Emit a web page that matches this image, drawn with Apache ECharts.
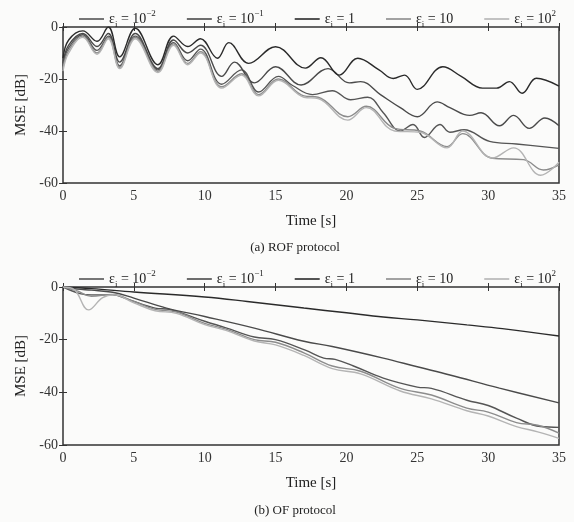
<!DOCTYPE html>
<html>
<head>
<meta charset="utf-8">
<title>MSE</title>
<script src="https://cdn.jsdelivr.net/npm/echarts@6/dist/echarts.min.js"></script>
<style>
  html, body { margin: 0; padding: 0; background: #fbfbfa; }
  #main { width: 574px; height: 522px; }
</style>
</head>
<body>
<div id="main"></div>
<script>
// series names and legend labels
var names = ['e-2', 'e-1', 'e0', 'e1', 'e2'];
var bases = ['10', '10', '1', '10', '10'];
var exps = ['−2', '−1', '', '', '2'];
var xTicks = [0, 5, 10, 15, 20, 25, 30, 35];
var yTicks = [0, -20, -40, -60];

// (a) ROF protocol, [time, MSE dB]
var rofEm2 = [[0,-15],[0.4,-8],[1.4,-3],[2.4,-9],[3.2,-3.5],[4,-15],[5.1,-3.5],[6.7,-16.5],[7.8,-6],[8.8,-13],[9.7,-8.5],[11.2,-22],[12.6,-16.5],[13.8,-25],[15.2,-19],[16.2,-22.5],[17.6,-26],[19,-24.5],[20.3,-28],[21.5,-27],[22.6,-33],[23.8,-40],[24.7,-37.5],[25.5,-42.5],[26.6,-37.5],[27.3,-40.5],[28.3,-39.5],[30.1,-44],[32,-45],[35,-46.7]];
var rofEm1 = [[0,-14],[0.4,-7],[1.4,-2.5],[2.4,-7.5],[3.2,-2.5],[4,-13.5],[5.1,-2.5],[6.7,-16],[7.8,-5],[8.8,-10],[9.7,-7],[11.2,-19],[12.1,-13.5],[13.5,-21.5],[15,-15.3],[16.8,-22.3],[18.7,-16],[20.2,-21.5],[21,-21],[22.4,-26],[23.8,-31],[25,-34.5],[26.4,-28.8],[27.3,-31],[28.7,-34],[29.5,-33],[30.8,-38],[31.8,-34],[32.9,-39],[34,-35],[35,-38]];
var rofE0 = [[0,-12],[0.4,-5],[1.4,-1.5],[2.4,-5.5],[3.2,0],[4,-11.5],[5.1,-0.5],[6.7,-14.5],[7.8,-3.5],[8.8,-7.5],[9.7,-4.5],[10.9,-12],[11.7,-6],[13.1,-14],[15,-7.6],[17.1,-15.8],[18.2,-11.8],[19.5,-18.5],[20.8,-12],[22.3,-16.5],[23.3,-19.8],[24.1,-18.5],[25,-24],[26.8,-15.3],[28.1,-19],[29.6,-23.5],[30.6,-23.5],[31.5,-21],[32.4,-25.5],[33.4,-19.7],[35,-22.7]];
var rofE1 = [[0,-16],[0.4,-9],[1.4,-3.5],[2.4,-10],[3.2,-4],[4,-15.5],[5.1,-4],[6.7,-17],[7.8,-6.5],[8.8,-14],[9.7,-9.5],[11.2,-23],[12.6,-18],[13.8,-26],[15.2,-20],[17,-26.5],[18,-27],[20.1,-34.5],[21.4,-30.5],[23.4,-39],[25.2,-40],[27.1,-46],[28.2,-41],[30.3,-50.5],[32.5,-51],[33.9,-55],[35,-53]];
var rofE2 = [[0,-17],[0.4,-10],[1.4,-4],[2.4,-10.5],[3.2,-4.5],[4,-16],[5.1,-4.5],[6.7,-17.5],[7.8,-7],[8.8,-14.5],[9.7,-10],[11.2,-23.5],[12.6,-18.5],[13.8,-26.5],[15.2,-20.5],[17,-27],[18,-27.5],[20.1,-35.8],[21.4,-31],[23.4,-40],[25.2,-40.5],[27.1,-46.5],[28.2,-40],[30.3,-50.4],[31.8,-46.5],[33.7,-57],[35,-52]];

// (b) OF protocol
var ofEm2 = [[0,0],[1.2,-2.5],[2,-3],[3.5,-3],[4.5,-4.5],[6.5,-8],[7.5,-8.5],[10,-13],[11.5,-15.5],[13.5,-19],[15,-20],[17.1,-24],[18.4,-27],[19.2,-27.5],[20.5,-30],[22.6,-34.6],[25,-38],[26,-38.5],[28.5,-43],[30,-45],[32,-49.8],[33.7,-53],[35,-53.3]];
var ofEm1 = [[0,0],[1,-0.8],[2,-1.2],[3.5,-2],[5,-4.2],[7.3,-8],[10,-11.2],[13.5,-15.6],[17,-20.6],[19,-22.6],[22.6,-27],[25,-30.3],[27.3,-33.4],[30.8,-38.4],[35,-44]];
var ofE0 = [[0,0],[2,-0.6],[5,-1.9],[10,-3.8],[13,-5.5],[17,-8],[20,-9.8],[22.6,-11.4],[25,-12.5],[28.5,-14.4],[31,-15.8],[35,-18.6]];
var ofE1 = [[0,0],[1,-1.5],[2,-3.5],[3.5,-2.8],[5,-5.5],[6.5,-8.5],[8,-9.5],[10,-13.8],[11.5,-16],[13.5,-20],[15,-21],[17,-25],[19,-30],[21,-32],[23.8,-38.5],[26,-41],[28.5,-46],[30,-47.5],[32,-51.5],[33.5,-52.5],[35,-55.5]];
var ofE2 = [[0,0],[0.8,-1],[1.8,-8.7],[2.8,-4],[3.6,-3],[5,-6],[6.5,-9],[8,-10],[10,-14.3],[11.5,-16.5],[13.5,-20.5],[15,-22],[17,-26],[19,-31],[21,-33],[23.8,-39.5],[26,-42.5],[28.5,-47],[30,-49],[32,-53],[33.5,-55],[35,-57.5]];

var colors = ['#555555', '#4a4a4a', '#2a2a2a', '#8c8c8c', '#b4b4b4'];
var serif = '"Liberation Serif", "DejaVu Serif", serif';

var dom = document.getElementById('main');
var myChart = echarts.init(dom);

function legendLabel(name) {
    var i = names.indexOf(name);
    var s = '{t|ε}{s|i}{t| = ' + bases[i] + '}';
    if (exps[i] !== '') {
        s += '{p|' + exps[i] + '}';
    }
    return s;
}

var richText = {
    t: { fontFamily: serif, fontSize: 14, color: '#222', lineHeight: 20 },
    s: { fontFamily: serif, fontSize: 9, color: '#222', lineHeight: 13, verticalAlign: 'bottom' },
    p: { fontFamily: serif, fontSize: 9, color: '#222', lineHeight: 13, verticalAlign: 'top' }
};

function makeLegend(top) {
    return {
        data: names,
        top: top,
        left: 74,
        icon: 'rect',
        itemWidth: 25,
        itemHeight: 1.6,
        itemGap: 31,
        formatter: legendLabel,
        textStyle: { rich: richText }
    };
}

function makeX(grid, pos, labels) {
    return {
        type: 'value',
        gridIndex: grid,
        position: pos,
        min: 0,
        max: 35,
        interval: 5,
        name: labels ? 'Time [s]' : '',
        nameLocation: 'middle',
        nameGap: 31,
        nameTextStyle: { fontFamily: serif, fontSize: 15, color: '#222' },
        axisLine: { show: false },
        axisTick: { show: true, inside: true, length: 4, lineStyle: { color: '#333' } },
        axisLabel: { show: labels, margin: 6, fontFamily: serif, fontSize: 14, color: '#333' },
        splitLine: { show: false }
    };
}

function makeY(grid, pos, labels) {
    return {
        type: 'value',
        gridIndex: grid,
        position: pos,
        min: -60,
        max: 0,
        interval: 20,
        name: labels ? 'MSE [dB]' : '',
        nameLocation: 'middle',
        nameGap: 30,
        nameTextStyle: { fontFamily: serif, fontSize: 15, color: '#222' },
        axisLine: { show: false },
        axisTick: { show: true, inside: true, length: 4, lineStyle: { color: '#333' } },
        axisLabel: { show: labels, margin: 5, fontFamily: serif, fontSize: 14, color: '#333' },
        splitLine: { show: false }
    };
}

var rofData = [rofEm2, rofEm1, rofE0, rofE1, rofE2];
var ofData = [ofEm2, ofEm1, ofE0, ofE1, ofE2];
var series = [];
names.forEach(function (n, i) {
    series.push({
        name: n, type: 'line', xAxisIndex: 0, yAxisIndex: 0,
        data: rofData[i], smooth: 0.4, symbol: 'none',
        lineStyle: { width: 1.4, color: colors[i] }, itemStyle: { color: colors[i] }
    });
    series.push({
        name: n, type: 'line', xAxisIndex: 2, yAxisIndex: 2,
        data: ofData[i], smooth: 0.4, symbol: 'none',
        lineStyle: { width: 1.4, color: colors[i] }, itemStyle: { color: colors[i] }
    });
});

option = {
    backgroundColor: '#fbfbfa',
    animation: false,
    color: colors,
    legend: [makeLegend(4), makeLegend(264)],
    title: [
        { text: '(a) ROF protocol', left: 290, top: 236, textAlign: 'center',
          textStyle: { fontFamily: serif, fontSize: 13, fontWeight: 'normal', color: '#222' } },
        { text: '(b) OF protocol', left: 290, top: 499, textAlign: 'center',
          textStyle: { fontFamily: serif, fontSize: 13, fontWeight: 'normal', color: '#222' } }
    ],
    grid: [
        { left: 63, right: 15, top: 27, height: 156, show: true, borderColor: '#333', borderWidth: 1.5, backgroundColor: 'transparent' },
        { left: 63, right: 15, top: 287, height: 158, show: true, borderColor: '#333', borderWidth: 1.5, backgroundColor: 'transparent' }
    ],
    xAxis: [makeX(0, 'bottom', true), makeX(0, 'top', false), makeX(1, 'bottom', true), makeX(1, 'top', false)],
    yAxis: [makeY(0, 'left', true), makeY(0, 'right', false), makeY(1, 'left', true), makeY(1, 'right', false)],
    series: series
};

if (option && typeof option === 'object') {
    myChart.setOption(option, true);
}
</script>
</body>
</html>
